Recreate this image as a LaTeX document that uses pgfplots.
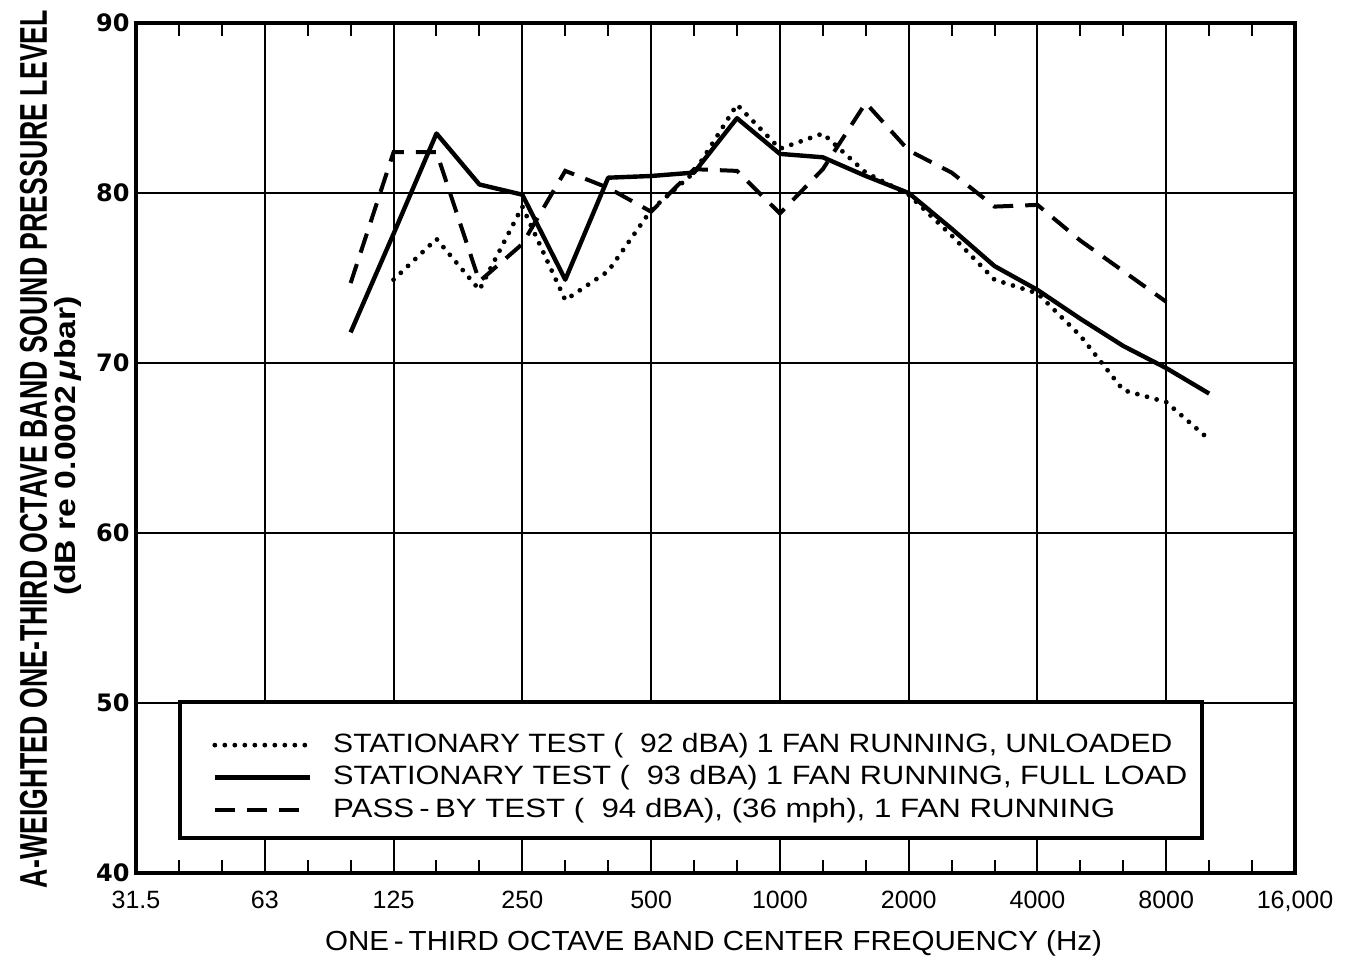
\documentclass[border=0pt]{standalone}
\usepackage{fontspec}
\setmainfont{Liberation Sans}
\newfontfamily\djv{DejaVu Sans}
\usepackage{graphicx}
\usepackage{pgfplots}
\pgfplotsset{compat=1.18}
\begin{document}
\begin{tikzpicture}
\useasboundingbox (-68pt,-41.5pt) rectangle (606pt,436.5pt);
\begin{axis}[
  at={(0,0)}, anchor=south west,
  scale only axis, width=579.5pt, height=425pt,
  xmin=0, xmax=27, ymin=40, ymax=90,
  /pgf/number format/assume math mode=true,
  xtick={0,3,...,27},
  xticklabels={31.5,63,125,250,500,1000,2000,4000,8000,{16,000}},
  minor xtick={1,2,4,5,7,8,10,11,13,14,16,17,19,20,22,23,25,26},
  ytick={40,50,...,90},
  grid=major,
  major grid style={black, line width=1pt},
  axis line style={black, line width=2pt},
  tick align=inside,
  xtick pos=both, ytick pos=left,
  major tick length=0pt,
  minor tick length=6.5pt,
  minor tick style={line width=1pt, black},
  xticklabel style={font=\fontsize{12.5}{14}\selectfont, anchor=base, yshift=-18pt, inner sep=0pt},
  yticklabel style={font=\djv\bfseries\fontsize{12}{14}\selectfont, anchor=east, xshift=-3pt, inner sep=0pt},
  xlabel={\resizebox{388.5pt}{10pt}{ONE\,-\,THIRD OCTAVE BAND CENTER FREQUENCY (Hz)}},
  xlabel style={at={(axis description cs:0.4983,0)}, anchor=base, yshift=-39pt, inner sep=0pt},
  legend image code/.code={\draw[#1] (0pt,0pt) -- (47.5pt,0pt);},
  legend cell align=left,
  legend style={at={(0.0656,0.1122)}, anchor=west, draw=none, fill=none, inner sep=0pt,
    column sep=10.5pt, row sep=3.25pt,
    nodes={inner sep=0pt, text height=10pt, text depth=3pt}},
]
\draw[line width=2.2pt, fill=white] (rel axis cs:0.038,0.0412) rectangle (rel axis cs:0.9198,0.2012);

% Stationary test, 92 dBA, unloaded (dotted)
\addplot[black, line width=2.4pt, dash pattern=on 0pt off 5pt, line cap=round] coordinates {
(6,74.9) (7,77.3) (8,74.3) (9,79.2) (10,73.7) (11,75.4) (12,79.0) (13,81.2) (14,85.2)
(15,82.6) (16,83.5) (17,81.2) (18,79.9) (19,77.5) (20,74.9) (21,74.1) (22,71.6)
(23,68.4) (24,67.7) (25,65.5)};
\addlegendentry{\resizebox{419.5pt}{9.6pt}{STATIONARY TEST (\ \ 92 dBA) 1 FAN RUNNING, UNLOADED}}

% Stationary test, 93 dBA, full load (solid)
\addplot[black, line width=2.2pt, line join=round] coordinates {
(5,71.8) (6,77.6) (7,83.5) (8,80.5) (9,79.9) (10,74.9) (11,80.9) (12,81.0) (13,81.2)
(14,84.4) (15,82.3) (16,82.1) (17,81.0) (18,80.0) (19,77.9) (20,75.7) (21,74.3)
(22,72.6) (23,71.0) (24,69.7) (25,68.2)};
\addlegendentry{\resizebox{427pt}{9.6pt}{STATIONARY TEST (\ \ 93 dBA) 1 FAN RUNNING, FULL LOAD}}

% Pass-by test, 94 dBA (dashed)
\addplot[black, line width=2pt, dash pattern=on 10pt off 6pt] coordinates {
(5,74.7) (6,82.4) (7,82.4) (8,74.8) (9,77.0) (10,81.3) (11,80.3) (12,78.9) (13,81.4)
(14,81.3) (15,78.8) (16,81.4) (17,85.3) (18,82.5) (19,81.2) (20,79.2) (21,79.3)
(22,77.2) (23,75.4) (24,73.6)};
\addlegendentry{\resizebox{391pt}{9.6pt}{PASS\,-\,BY TEST (\ \ 94 dBA), (36 mph), 1 FAN RUNNING}}
\end{axis}
\node[rotate=90, anchor=base, inner sep=0pt] at (-44.5pt,212pt)
  {\resizebox{439pt}{13.5pt}{\bfseries A-WEIGHTED ONE-THIRD OCTAVE BAND SOUND PRESSURE LEVEL}};
\node[rotate=90, anchor=base, inner sep=0pt] at (-30pt,213.5pt)
  {\resizebox{150pt}{10.5pt}{\bfseries (dB re 0.0002\,\textit{μ}bar)}};
\end{tikzpicture}
\end{document}
